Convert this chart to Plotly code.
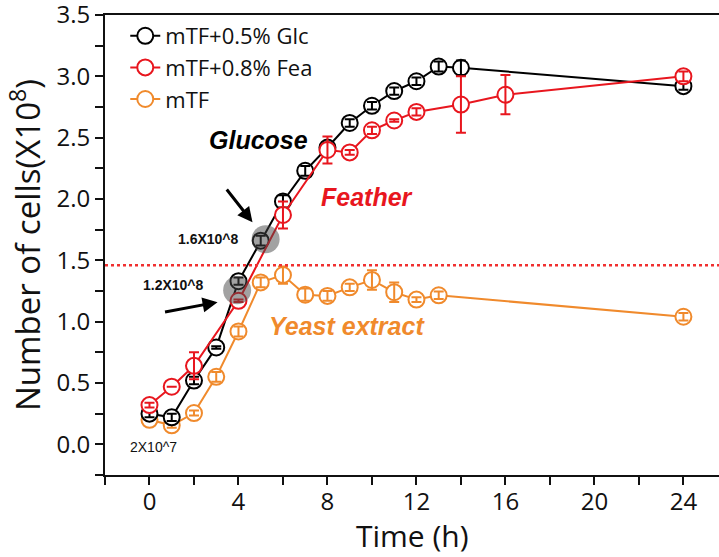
import plotly.graph_objects as go

# Sampling times (h) and cell counts (x10^8) with standard deviations
t_glc = [0, 1, 2, 3, 4, 5, 6, 7, 8, 9, 10, 11, 12, 13, 14, 24]
y_glc = [0.25, 0.22, 0.52, 0.79, 1.33, 1.66, 1.98, 2.23, 2.42, 2.62, 2.76, 2.88, 2.96, 3.08, 3.07, 2.92]
e_glc = [0.03, 0.03, 0.03, 0.01, 0.03, 0.04, 0.05, 0.04, 0.04, 0.03, 0.03, 0.03, 0.03, 0.04, 0.06, 0.03]

t_fea = [0, 1, 2, 4, 6, 8, 9, 10, 11, 12, 14, 16, 24]
y_fea = [0.32, 0.47, 0.64, 1.17, 1.87, 2.40, 2.38, 2.56, 2.64, 2.71, 2.77, 2.85, 3.00]
e_fea = [0.02, 0.0, 0.11, 0.01, 0.11, 0.11, 0.02, 0.03, 0.01, 0.03, 0.23, 0.16, 0.04]

t_mtf = [0, 1, 2, 3, 4, 5, 6, 7, 8, 9, 10, 11, 12, 13, 24]
y_mtf = [0.20, 0.155, 0.255, 0.55, 0.92, 1.32, 1.38, 1.22, 1.21, 1.28, 1.34, 1.24, 1.18, 1.215, 1.04]
e_mtf = [0.0, 0.02, 0.02, 0.04, 0.04, 0.04, 0.07, 0.05, 0.04, 0.03, 0.08, 0.08, 0.02, 0.03, 0.03]

series_names = ["mTF+0.5% Glc", "mTF+0.8% Fea", "mTF"]
threshold = 1.46

# highlighted points (time, count)
halo_t = [3.94, 5.22]
halo_y = [1.256, 1.672]

BLACK = "#000000"
RED = "#E8161E"
ORANGE = "#F08A2C"
FONT = "Open Sans"
LABEL_FONT = "Liberation Sans"

fig = go.Figure()


def add_series(t, y, e, name, color, rank):
    # white-filled circles joined by a line
    fig.add_trace(go.Scatter(
        x=t, y=y, name=name, mode="lines+markers", legendrank=rank,
        line=dict(color=color, width=2),
        marker=dict(symbol="circle", size=16, color="white",
                    line=dict(color=color, width=2)),
        cliponaxis=False,
    ))
    # error bars drawn on top of the filled circles
    fig.add_trace(go.Scatter(
        x=t, y=y, mode="markers", showlegend=False, hoverinfo="skip",
        marker=dict(size=16, color="rgba(0,0,0,0)", line=dict(width=0)),
        error_y=dict(type="data", array=e, visible=True, color=color,
                     thickness=2, width=5),
        cliponaxis=False,
    ))


add_series(t_mtf, y_mtf, e_mtf, series_names[2], ORANGE, 3)
add_series(t_glc, y_glc, e_glc, series_names[0], BLACK, 1)
add_series(t_fea, y_fea, e_fea, series_names[1], RED, 2)

# grey halos over the highlighted points
fig.add_trace(go.Scatter(
    x=halo_t, y=halo_y, mode="markers", showlegend=False, hoverinfo="skip",
    marker=dict(size=28, color="rgba(70,70,70,0.5)", line=dict(width=0)),
))

# dotted reference level
fig.add_shape(type="line", xref="paper", x0=0, x1=1, yref="y",
              y0=threshold, y1=threshold,
              line=dict(color="#F03030", width=2.5, dash="dot"))

# labels
labels = [
    ("Glucose", 4.90, 2.48, BLACK),
    ("Feather", 9.76, 2.02, RED),
    ("Yeast extract", 8.86, 0.963, ORANGE),
]
for text, x, y, c in labels:
    fig.add_annotation(x=x, y=y, text=f"<b><i>{text}</i></b>", showarrow=False,
                       font=dict(family=LABEL_FONT, size=25, color=c))

counts = [
    ("<b>1.6X10^8</b>", 2.63, 1.672),
    ("<b>1.2X10^8</b>", 1.10, 1.297),
    ("2X10^7", 0.20, -0.024),
]
for text, x, y in counts:
    fig.add_annotation(x=x, y=y, text=text, showarrow=False,
                       font=dict(family=LABEL_FONT, size=14, color="#111111"))

# arrows pointing at the highlighted points
arrows = [((3.42, 2.09), (4.63, 1.81)), ((0.63, 1.077), (3.06, 1.159))]
for (tx, ty), (hx, hy) in arrows:
    fig.add_annotation(x=hx, y=hy, ax=tx, ay=ty, xref="x", yref="y",
                       axref="x", ayref="y", text="", showarrow=True,
                       arrowhead=2, arrowsize=1, arrowwidth=3,
                       arrowcolor=BLACK)

# x-axis title
fig.add_annotation(x=0.5, y=-0.1326, xref="paper", yref="paper",
                   xanchor="center", yanchor="middle", showarrow=False,
                   text="Time (h)", font=dict(size=30, family=FONT, color="#111111"))

fig.update_layout(
    width=719, height=557,
    margin=dict(l=105, r=0, t=15, b=82),
    plot_bgcolor="white", paper_bgcolor="white",
    font=dict(family=FONT, color="#111111"),
    showlegend=True,
    legend=dict(x=0.033, y=1.0, xanchor="left", yanchor="top",
                bgcolor="rgba(0,0,0,0)", font=dict(size=22, family=FONT),
                tracegroupgap=0),
    xaxis=dict(
        range=[-2, 25.6], tickvals=[0, 4, 8, 12, 16, 20, 24],
        automargin=False, ticklabelstandoff=-4,
        ticks="outside", ticklen=8, tickwidth=2, tickcolor="#111111",
        minor=dict(dtick=2, tick0=0, ticks="outside", ticklen=8, tickwidth=2,
                   tickcolor="#111111", showgrid=False),
        showline=True, linecolor="#111111", linewidth=2, mirror=True,
        showgrid=False, zeroline=False,
        tickfont=dict(size=24, family=FONT),
    ),
    yaxis=dict(
        range=[-0.25, 3.5001], tickvals=[0, 0.5, 1, 1.5, 2, 2.5, 3, 3.5],
        automargin=False,
        tickformat=".1f", ticklabeloverflow="allow",
        ticks="outside", ticklen=8, tickwidth=2, tickcolor="#111111",
        minor=dict(dtick=0.25, tick0=0, ticks="outside", ticklen=8,
                   tickwidth=2, tickcolor="#111111", showgrid=False),
        showline=True, linecolor="#111111", linewidth=2,
        showgrid=False, zeroline=False,
        tickfont=dict(size=24, family=FONT),
        title=dict(text="Number of cells(X10<sup>8</sup>)",
                   font=dict(size=33, family=FONT), standoff=6),
    ),
)

fig.write_html("out.html")
